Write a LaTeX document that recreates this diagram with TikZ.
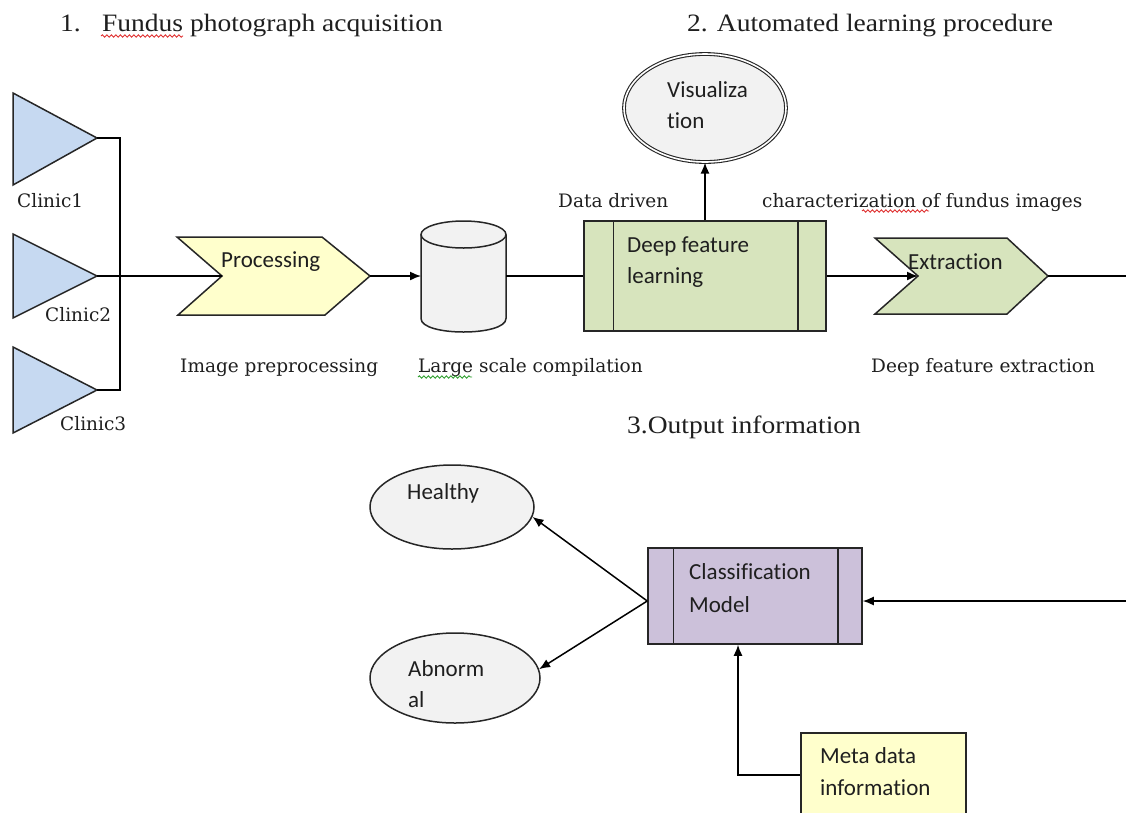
\documentclass[tikz,border=0pt]{standalone}
\usepackage{fontspec}
\setmainfont{Liberation Serif}
\newfontfamily\headfont[FakeStretch=1.1]{Liberation Serif}
\newfontfamily\labfont{DejaVu Serif}
\newfontfamily\boxfont[Ligatures=NoCommon]{Carlito}
\usetikzlibrary{shapes.geometric,arrows.meta,decorations.pathmorphing}
\definecolor{clinicblue}{HTML}{C6D9F1}
\definecolor{procyellow}{HTML}{FFFFCC}
\definecolor{featgreen}{HTML}{D7E4BD}
\definecolor{shapegray}{HTML}{F2F2F2}
\definecolor{classpurple}{HTML}{CCC1DA}
\definecolor{txtcol}{HTML}{1F1F1F}
\definecolor{spellred}{HTML}{E03030}
\definecolor{spellgreen}{HTML}{30A030}
\tikzset{
  shapeline/.style={draw=black!85, line width=1.5pt},
  conn/.style={line width=1.5pt, draw=black},
  arr/.style={conn, -{Latex[length=11pt,width=9pt]}},
  headtext/.style={inner sep=0pt, anchor=base west, text=txtcol, font=\headfont\fontsize{25}{30}\selectfont},
  labtext/.style={inner sep=0pt, anchor=base west, text=txtcol, font=\labfont\fontsize{18.5}{22}\selectfont},
  boxtext/.style={inner sep=0pt, anchor=base west, text=txtcol, font=\boxfont\fontsize{23}{28}\selectfont},
  squiggle/.style={decorate, decoration={snake, amplitude=1.2pt, segment length=4.5pt}, line width=0.9pt},
}
\begin{document}
\begin{tikzpicture}[x=1pt,y=-1pt]
\useasboundingbox (0,0) rectangle (1126,812);
\clip (0,0) rectangle (1126,812);
\fill[white] (0,0) rectangle (1126,812);

% clinics
\draw[shapeline, fill=clinicblue] (13,93) -- (97,138) -- (13,185) -- cycle;
\draw[shapeline, fill=clinicblue] (13,234) -- (97,276) -- (13,318) -- cycle;
\draw[shapeline, fill=clinicblue] (13,347) -- (97,390) -- (13,433) -- cycle;
\coordinate (c1) at (97,138);
\coordinate (c2) at (97,276);
\coordinate (c3) at (97,390);
\coordinate (bus1) at (120,138);
\coordinate (bus3) at (120,390);

% processing chevron
\draw[shapeline, fill=procyellow] (177,237) -- (322,237) -- (370,276) -- (325,315) -- (178,315) -- (222,276) -- cycle;
\coordinate (procin) at (222,276);
\coordinate (procout) at (370,276);

% cylinder
\draw[shapeline, fill=shapegray] (421,234.5) -- (421,318.5) .. controls (421,336.5) and (506,336.5) .. (506,318.5) -- (506,234.5);
\draw[shapeline, fill=shapegray] (463.5,234.5) ellipse [x radius=42.5, y radius=13.5];
\coordinate (cylw) at (421,276);
\coordinate (cyle) at (506,276);

% deep feature learning
\node[shapeline, fill=featgreen, minimum width=242pt, minimum height=110pt, inner sep=0pt] (dfl) at (705,276) {};
\draw[shapeline] ([xshift=30pt]dfl.north west) -- ([xshift=30pt]dfl.south west);
\draw[shapeline] ([xshift=-29pt]dfl.north east) -- ([xshift=-29pt]dfl.south east);

% visualization
\node[ellipse, draw=black!85, line width=1.1pt, double=white, double distance=1.6pt, fill=shapegray, minimum width=162pt, minimum height=108pt, inner sep=0pt] (viz) at (705,108) {};

% extraction chevron
\draw[shapeline, fill=featgreen] (875,238) -- (1007,238) -- (1048,276) -- (1007,314) -- (875,314) -- (918,276) -- cycle;
\coordinate (extin) at (918,276);
\coordinate (extout) at (1048,276);
\coordinate (rtop) at (1140,276);
\coordinate (rbot) at (1140,601);

% classification
\node[shapeline, fill=classpurple, minimum width=214pt, minimum height=96pt, inner sep=0pt] (cls) at (755,596) {};
\draw[shapeline] ([xshift=26pt]cls.north west) -- ([xshift=26pt]cls.south west);
\draw[shapeline] ([xshift=-25pt]cls.north east) -- ([xshift=-25pt]cls.south east);

% outcomes
\node[ellipse, shapeline, fill=shapegray, minimum width=164pt, minimum height=84pt, inner sep=0pt] (hl) at (452,507) {};
\node[ellipse, shapeline, fill=shapegray, minimum width=170pt, minimum height=90pt, inner sep=0pt] (ab) at (455,678) {};

% meta data
\node[shapeline, fill=procyellow, minimum width=165pt, minimum height=84pt, inner sep=0pt, anchor=north west] (meta) at (800,732) {};
\coordinate (mx) at (738,0);

% connectors
\draw[conn] (c1) -- (bus1) -- (bus3) -- (c3);
\draw[conn] (c2) -- (procin);
\draw[arr] (procout) -- (cylw);
\draw[conn] (cyle) -- (dfl.west);
\draw[arr] (dfl.north) -- (viz.south);
\draw[arr] (dfl.east) -- (extin);
\draw[arr] (extout) -- (rtop) -- (rbot) -- (cls.east |- rbot);
\draw[arr] (cls.west |- rbot) -- (hl.-7);
\draw[arr] (cls.west |- rbot) -- (ab.6);
\draw[arr] (meta.west) -| (cls.south -| mx);

% headings
\node[headtext] (h1n) at (60,31) {1.};
\node[headtext] (h1) at (102,31) {Fundus photograph acquisition};
\node[headtext] (h2) at (687,31) {2. Automated learning procedure};
\node[headtext] (h3) at (627,433) {3.Output information};

% serif labels
\node[labtext] (l1) at (17,207) {Clinic1};
\node[labtext] (l2) at (45,321) {Clinic2};
\node[labtext] (l3) at (60,430) {Clinic3};
\node[labtext] (ldd) at (558,207) {Data driven};
\node[labtext] (lch) at (762,207) {characterization of fundus images};
\node[labtext] (lip) at (180,372) {Image preprocessing};
\node[labtext] (llc) at (418,372) {Large scale compilation};
\node[labtext] (lde) at (871,372) {Deep feature extraction};

% spell-check marks
\draw[spellred, squiggle] (101,36) -- (183,36);
\draw[spellred, squiggle] (862,211) -- (929,211);
\draw[spellgreen, squiggle] (418,377) -- (472,377);

% box texts
\node[boxtext] (tp) at (221,267) {Processing};
\node[boxtext] (td1) at (627,252) {Deep feature};
\node[boxtext] (td2) at (627,283) {learning};
\node[boxtext] (te) at (908,269) {Extraction};
\node[boxtext] (tv1) at (667,97) {Visualiza};
\node[boxtext] (tv2) at (667,128) {tion};
\node[boxtext] (th) at (407,499) {Healthy};
\node[boxtext] (tc1) at (689,579) {Classification};
\node[boxtext] (tc2) at (689,612) {Model};
\node[boxtext] (ta1) at (408,676) {Abnorm};
\node[boxtext] (ta2) at (408,707) {al};
\node[boxtext] (tm1) at (820,763) {Meta data};
\node[boxtext] (tm2) at (820,795) {information};
\end{tikzpicture}
\end{document}
